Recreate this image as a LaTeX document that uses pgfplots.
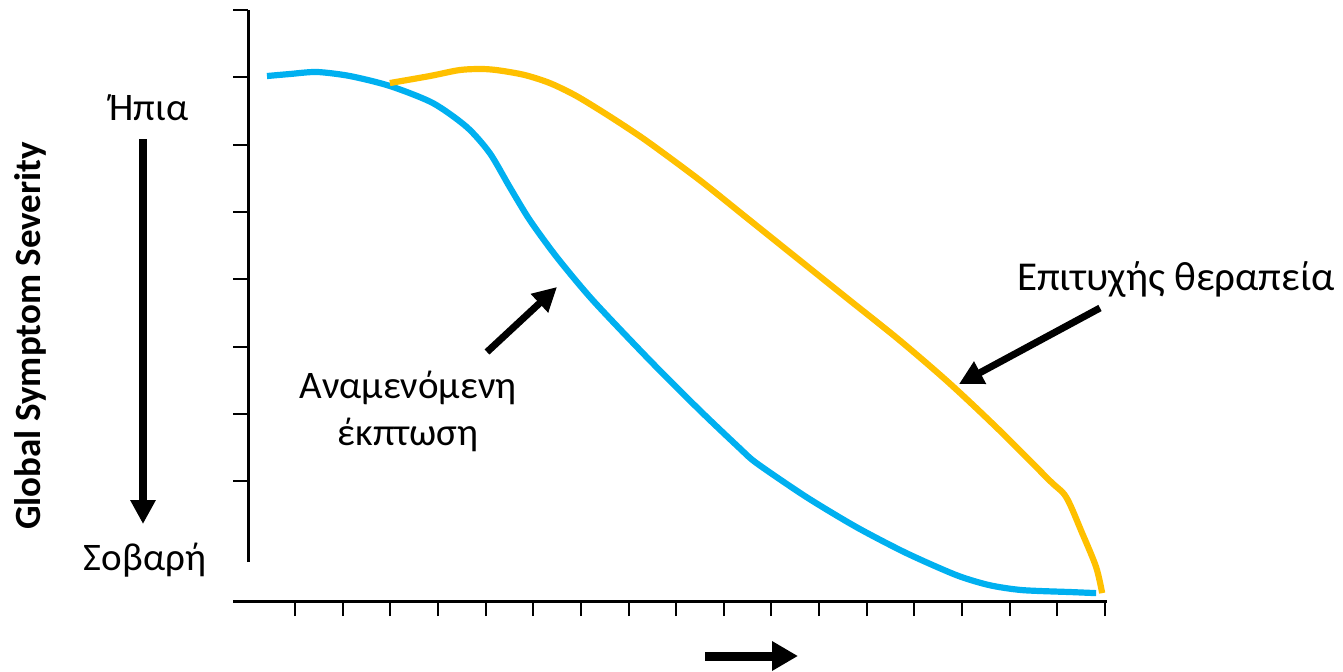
\documentclass[border=0pt]{standalone}
\usepackage{pgfplots}
\pgfplotsset{compat=1.18}
\usepackage{fontspec}
\setmainfont{Carlito}
\usetikzlibrary{arrows.meta}
\definecolor{cblue}{RGB}{0,176,240}
\definecolor{cyell}{RGB}{255,192,0}
\begin{document}
\begin{tikzpicture}[x=0.5pt,y=0.5pt]
\path[use as bounding box] (0,0) rectangle (1343,671);
% main axis with x axis line and curves
\begin{axis}[
  at={(116.5pt,35pt)}, anchor=south west,
  scale only axis, width=437.2pt, height=295.5pt,
  xmin=-0.3, xmax=18.05, ymin=-0.78, ymax=8,
  axis x line=bottom, axis y line=none,
  axis line style={-, line width=1.5pt, black},
  xtick={1,...,18}, xticklabels={},
  tick align=outside, major tick length=7.5pt,
  tick style={line width=1pt, black},
  clip=false,
]
\addplot[cblue, line width=3.1pt, smooth, tension=0.45] coordinates {
(0.413,7.019) (0.895,7.049) (1.461,7.079) (2.153,7.019) (2.992,6.871)
(3.893,6.618) (4.606,6.261) (5.088,5.875) (5.507,5.370) (5.927,4.880)
(6.493,4.330) (7.247,3.691) (8.442,2.799) (9.491,2.056) (10.329,1.492)
(10.686,1.269) (11.734,0.764) (12.782,0.318) (13.830,-0.068) (14.878,-0.395)
(15.570,-0.544) (16.262,-0.618) (17.310,-0.648) (17.813,-0.663)
};
\addplot[cyell, line width=3.1pt, smooth, tension=0.5] coordinates {
(2.992,6.915) (3.830,7.019) (4.459,7.108) (4.941,7.123) (5.298,7.101)
(5.822,7.034) (6.346,6.915) (6.870,6.737) (7.394,6.514) (7.918,6.276)
(8.442,6.024) (9.491,5.474) (10.539,4.880) (11.587,4.285)
(12.635,3.691) (13.683,3.097) (14.731,2.458) (15.780,1.759) (16.828,1.016)
(17.184,0.764) (17.52,0.229) (17.813,-0.276) (17.94,-0.663)
};
\end{axis}
% y axis
\begin{axis}[
  at={(124pt,54.5pt)}, anchor=south west,
  scale only axis, width=20pt, height=276pt,
  xmin=0, xmax=1, ymin=-0.2, ymax=8,
  axis x line=none, axis y line=left,
  axis line style={-, line width=1.5pt, black},
  ytick={1,...,8}, yticklabels={},
  tick align=outside, major tick length=7.5pt,
  tick style={line width=1pt, black},
]
\end{axis}
% annotations
\tikzset{fnt/.style={font=\fontsize{19.5}{23.5}\selectfont}}
\node[rotate=90, font=\fontsize{18.5}{22}\selectfont\bfseries] at (30,335) {Global Symptom Severity};
\node[fnt] at (149,563) {Ήπια};
\node[fnt] at (145,111) {Σοβαρή};
\draw[line width=3.8pt, -{Triangle[length=12pt,width=12pt]}] (143,532) -- (143,147);
\node[fnt, align=center] at (408,260) {Αναμενόμενη\\έκπτωση};
\draw[line width=3.5pt, -{Triangle[length=12pt,width=12pt]}] (487,319) -- (557,384);
\node[font=\fontsize{20.5}{24}\selectfont] at (1176,391) {Επιτυχής θεραπεία};
\draw[line width=3.5pt, -{Triangle[length=12pt,width=12pt]}] (1100,363) -- (959,287);
\draw[line width=4.5pt, -{Triangle[length=13pt,width=14pt]}] (705,15) -- (798,15);
\end{tikzpicture}
\end{document}
